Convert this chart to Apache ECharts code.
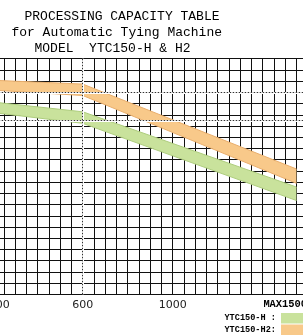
<!DOCTYPE html>
<html><head><meta charset="utf-8">
<script src="https://cdn.jsdelivr.net/npm/echarts@6/dist/echarts.min.js"></script>
<style>html,body{margin:0;padding:0;background:#fff}#c{width:303px;height:335px}</style>
</head><body><div id="c"></div>
<script>
// ---- data ----
const titleLines = ['PROCESSING CAPACITY TABLE', 'for Automatic Tying Machine', 'MODEL  YTC150-H & H2'];
const xPoints = [200, 600, 1550];
const hTop = [17.14, 16.27, 9.56];
const hBottom = [16.20, 15.24, 8.36];
const h2Top = [19.08, 18.74, 11.17];
const h2Bottom = [18.20, 17.72, 9.89];
const xTickValues = [200, 600, 1000, 1500];
const xTickLabels = ['200', '600', '1000', 'MAX1500'];
const seriesNames = ['YTC150-H', 'YTC150-H2'];
const legendLabels = ['YTC150-H :', 'YTC150-H2:'];
const refX = [600];
const refY = [18, 15.47];

// ---- chart ----
const chart = echarts.init(document.getElementById('c'), null, {renderer: 'canvas'});
const GRID = '#111';
const fills = {'YTC150-H': '#C9E29C', 'YTC150-H2': '#F8C98A'};
const edges = {'YTC150-H': '#AECD7E', 'YTC150-H2': '#E9AE6C'};

function band(name, bottom, top) {
  return {
    type: 'custom', name: name, z: 2, silent: true, animation: false,
    itemStyle: {color: fills[name]},
    data: xPoints.map((x, i) => [x, bottom[i], top[i]]),
    encode: {x: 0, y: [1, 2]},
    renderItem: function (params, api) {
      if (params.dataIndex !== 0) return null;
      const topPts = xPoints.map((x, i) => api.coord([x, top[i]]));
      const botPts = xPoints.map((x, i) => api.coord([x, bottom[i]]));
      const poly = topPts.concat(botPts.slice().reverse());
      return {
        type: 'group',
        children: [
          {type: 'polygon', shape: {points: poly}, style: {fill: fills[name], stroke: null}},
          {type: 'polyline', shape: {points: topPts}, style: {stroke: edges[name], lineWidth: 1, fill: null}},
          {type: 'polyline', shape: {points: botPts}, style: {stroke: edges[name], lineWidth: 1, fill: null}}
        ]
      };
    }
  };
}

const refData = refX.map(v => ({xAxis: v})).concat(refY.map(v => ({yAxis: v})));

const titleFont = '13px "Liberation Mono"';
const titleCenters = [[122, 17], [116.7, 33], [112.5, 49]];

chart.setOption({
  animation: false,
  grid: {left: -7.3, right: -4.7, top: 58.7, bottom: 40.7, containLabel: false, outerBoundsMode: 'none'},
  xAxis: {
    type: 'value', min: 200, max: 1600, interval: 50,
    axisLine: {lineStyle: {color: GRID, width: 1}},
    axisTick: {show: false},
    splitLine: {show: true, lineStyle: {color: GRID, width: 1}},
    axisLabel: {
      customValues: xTickValues,
      margin: 5, hideOverlap: false,
      fontFamily: 'DejaVu Sans', fontSize: 11, color: '#222',
      formatter: function (v) {
        const i = xTickValues.indexOf(v);
        const t = xTickLabels[i];
        if (i === 0) return '{f|' + t + '}';
        if (i === xTickValues.length - 1) return '{m|' + t + '}';
        return t;
      },
      rich: {
        f: {fontFamily: 'DejaVu Sans', fontSize: 11, color: '#222', padding: [0, 0, 0, 13]},
        m: {fontFamily: 'Liberation Mono', fontWeight: 'bold', fontSize: 10.4, color: '#000'}
      }
    }
  },
  yAxis: {
    type: 'value', min: 0, max: 21, interval: 1,
    axisLine: {show: false}, axisTick: {show: false}, axisLabel: {show: false},
    splitLine: {show: true, lineStyle: {color: GRID, width: 1}}
  },
  legend: {
    data: seriesNames, orient: 'vertical', right: -9, bottom: -5, align: 'right',
    itemWidth: 26, itemHeight: 10.5, itemGap: 1, icon: 'rect', selectedMode: false,
    itemStyle: {borderWidth: 0},
    formatter: n => legendLabels[seriesNames.indexOf(n)],
    textStyle: {fontFamily: 'Liberation Mono', fontWeight: 'bold', fontSize: 8.6, color: '#000', lineHeight: 10}
  },
  graphic: titleLines.map((t, i) => ({
    type: 'text', x: titleCenters[i][0], y: titleCenters[i][1], silent: true,
    style: {text: t, font: titleFont, fill: '#000', textAlign: 'center', textVerticalAlign: 'middle'}
  })),
  series: [
    {type: 'line', name: 'ref-under', data: [], z: 1, silent: true,
     markLine: {symbol: 'none', silent: true, label: {show: false}, animation: false,
       lineStyle: {color: '#fff', type: 'solid', width: 2}, data: refData}},
    {type: 'line', name: 'ref', data: [], z: 1.5, silent: true,
     markLine: {symbol: 'none', silent: true, label: {show: false}, animation: false,
       lineStyle: {color: '#333', type: [1.5, 1.5], width: 1}, data: refData}},
    band('YTC150-H', hBottom, hTop),
    band('YTC150-H2', h2Bottom, h2Top)
  ]
});
</script></body></html>
